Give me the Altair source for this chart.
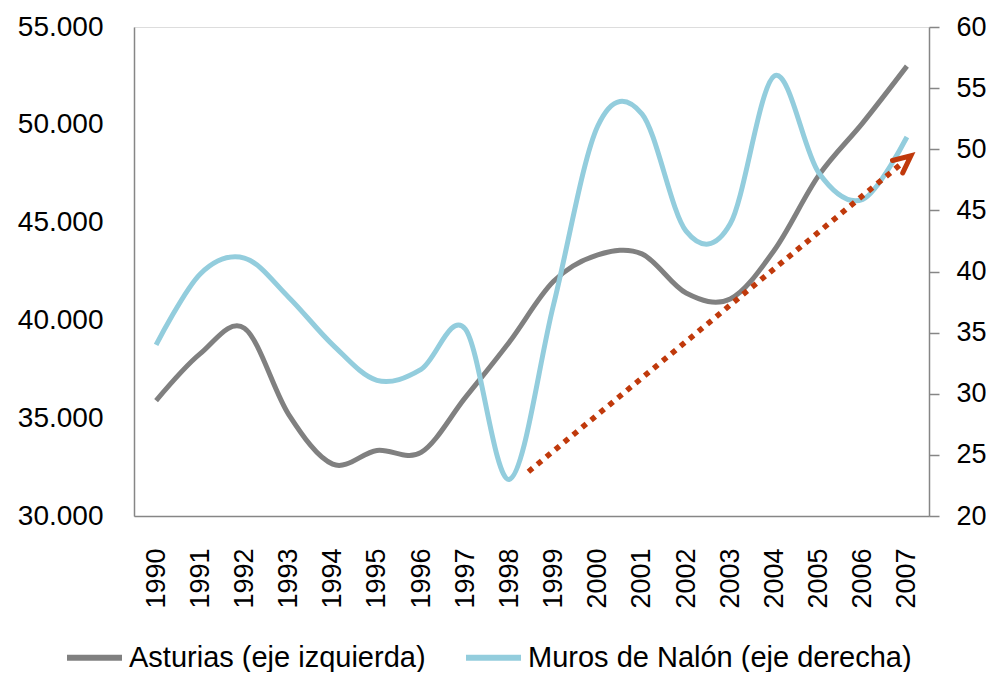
import altair as alt
import pandas as pd

# ---- data ----
years = list(range(1990, 2008))
asturias = [35900, 38300, 39600, 35200, 32650, 33350, 33250, 36050, 38900, 42000,
            43350, 43400, 41400, 41100, 43600, 47400, 50100, 53000]
muros = [34.0, 39.8, 41.1, 37.9, 34.0, 31.1, 32.0, 35.3, 23.0, 37.3,
         51.9, 52.9, 43.3, 43.9, 56.0, 48.1, 45.9, 51.0]
series_names = ["Asturias (eje izquierda)", "Muros de Nalón (eje derecha)"]
series_colors = ["#808080", "#93CDDD"]

left_ticks = [30000, 35000, 40000, 45000, 50000, 55000]
right_ticks = [20, 25, 30, 35, 40, 45, 50, 55, 60]

# trend arrow (right-axis units)
arrow_years = [1998.43, 2006.92]
arrow_vals = [23.62, 48.95]
arrow_tip_year = [2007.09]
arrow_tip_val = [49.47]
arrow_color = "#C0390B"

FONT = "Liberation Sans"
AXIS_GRAY = "#868686"

df1 = pd.DataFrame({"year": years, "value": asturias, "serie": series_names[0]})
df2 = pd.DataFrame({"year": years, "value": muros, "serie": series_names[1]})
dfa = pd.DataFrame({"year": arrow_years, "value": arrow_vals})
dft = pd.DataFrame({"year": arrow_tip_year, "value": arrow_tip_val})

xenc = alt.X(
    "year:Q",
    scale=alt.Scale(domain=[1989.5, 2007.5], nice=False, zero=False),
    axis=alt.Axis(values=years, format="d", labelAngle=270, labelFontSize=27,
                  labelPadding=32, ticks=False, grid=False, title=None,
                  labelOverlap=False, labelFlush=False, labelFont=FONT,
                  labelColor="#000000", domainColor=AXIS_GRAY, domainWidth=1.5),
)

color = alt.Color(
    "serie:N",
    scale=alt.Scale(domain=series_names, range=series_colors),
    legend=alt.Legend(orient="none", legendX=-70, legendY=600, direction="horizontal",
                      symbolType="stroke", symbolSize=3025, symbolStrokeWidth=6,
                      labelFontSize=29, labelFont=FONT, labelColor="#000000",
                      labelOffset=4, columnPadding=28, title=None, labelLimit=0,
                      symbolOpacity=1),
)

left = alt.Chart(df1).mark_line(interpolate="cardinal", strokeWidth=5).encode(
    x=xenc,
    y=alt.Y("value:Q", scale=alt.Scale(domain=[30000, 55000], nice=False, zero=False),
            axis=alt.Axis(orient="left", values=left_ticks, ticks=False, grid=False,
                          title=None, labelFontSize=28, labelPadding=31, labelFont=FONT,
                          labelColor="#000000", domainColor=AXIS_GRAY, domainWidth=1.5,
                          labelExpr="replace(format(datum.value, ',d'), ',', '.')")),
    color=color,
)

right = alt.Chart(df2).mark_line(interpolate="cardinal", strokeWidth=5).encode(
    x=xenc,
    y=alt.Y("value:Q", scale=alt.Scale(domain=[20, 60], nice=False, zero=False),
            axis=alt.Axis(orient="right", values=right_ticks, ticks=True, tickSize=10,
                          tickColor=AXIS_GRAY, tickWidth=1.5, grid=False, title=None,
                          labelFontSize=27, labelPadding=17, labelFont=FONT,
                          labelColor="#000000", domainColor=AXIS_GRAY, domainWidth=1.5)),
    color=color,
)

arrow = alt.Chart(dfa).mark_line(color=arrow_color, strokeWidth=5.5,
                                  strokeDash=[5.5, 6.1], strokeCap="butt").encode(
    x=xenc,
    y=alt.Y("value:Q", scale=alt.Scale(domain=[20, 60], nice=False, zero=False), axis=None),
)

head = alt.Chart(dft).mark_point(shape="M -0.423 0.906 L 0 0 L 0.423 0.906", filled=False,
                                 size=1444, strokeWidth=5, color=arrow_color, angle=50.5,
                                 opacity=1, strokeCap="round").encode(
    x=xenc,
    y=alt.Y("value:Q", scale=alt.Scale(domain=[20, 60], nice=False, zero=False), axis=None),
)

chart = (
    alt.layer(left, right, arrow, head)
    .resolve_scale(y="independent")
    .properties(width=795, height=489,
                autosize=alt.AutoSizeParams(type="none"),
                padding={"left": 126, "top": 19, "right": 57, "bottom": 156})
    .configure_view(stroke=None)
    .configure(font=FONT)
)

chart.save("out.html", embed_options={"renderer": "svg", "actions": False})
